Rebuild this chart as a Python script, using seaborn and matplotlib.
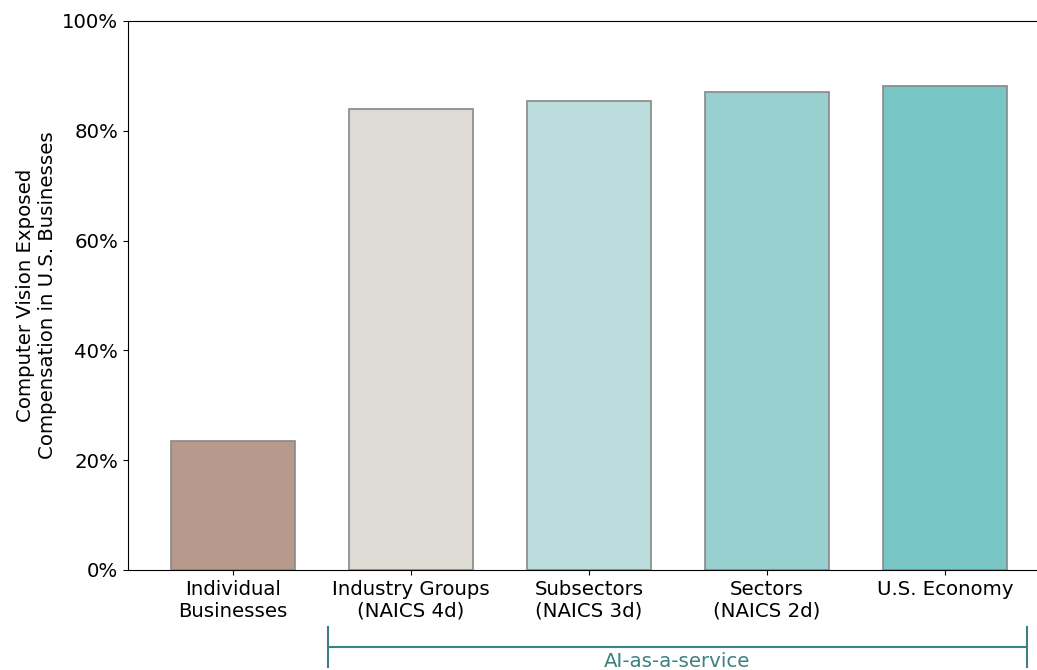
import matplotlib
matplotlib.use("Agg")
import matplotlib.pyplot as plt
import matplotlib.transforms as mtransforms
from matplotlib.ticker import PercentFormatter
import numpy as np
import pandas as pd
import seaborn as sns

categorias = ["Individual\nBusinesses", "Industry Groups\n(NAICS 4d)", "Subsectors\n(NAICS 3d)",
              "Sectors\n(NAICS 2d)", "U.S. Economy"]
valores = [23.5, 83.9, 85.4, 87.1, 88.2]
colores = ["#b89a8d", "#dedad4", "#badcdc", "#98d0d0", "#78c6c6"]

df = pd.DataFrame({"nivel": categorias, "valor": valores})

plt.rcParams["font.family"] = ["DejaVu Sans"]
fs = 14.2

fig = plt.figure(figsize=(10.37, 6.70), dpi=100)
ax = fig.add_axes([0.1234, 0.1493, 0.8766, 0.8194])

sns.barplot(data=df, x="nivel", y="valor", hue="nivel", palette=colores, legend=False,
            width=0.7, edgecolor="#888888", linewidth=1.2, saturation=1, ax=ax)

ax.set_xlim(-0.59, 4.517)
ax.set_ylim(0, 100)
ax.yaxis.set_major_formatter(PercentFormatter(decimals=0))
ax.set_yticks([0, 20, 40, 60, 80, 100])
ax.tick_params(labelsize=fs)
ax.set_xlabel("")
ax.set_ylabel("Computer Vision Exposed\nCompensation in U.S. Businesses", fontsize=fs)
ax.spines["right"].set_visible(False)

# corchete AI-as-a-service
trans = mtransforms.blended_transform_factory(ax.transData, ax.transAxes)
color_ai = "#3d8080"
x0, x1 = 0.534, 4.46
ax.plot([x0, x1], [-0.140, -0.140], color=color_ai, lw=1.5, transform=trans, clip_on=False)
ax.plot([x0, x0], [-0.104, -0.177], color=color_ai, lw=1.5, transform=trans, clip_on=False)
ax.plot([x1, x1], [-0.104, -0.177], color=color_ai, lw=1.5, transform=trans, clip_on=False)
ax.text((x0 + x1) / 2, -0.150, "AI-as-a-service", color=color_ai, fontsize=fs,
        ha="center", va="top", transform=trans)

fig.savefig("out.png", dpi=100)
